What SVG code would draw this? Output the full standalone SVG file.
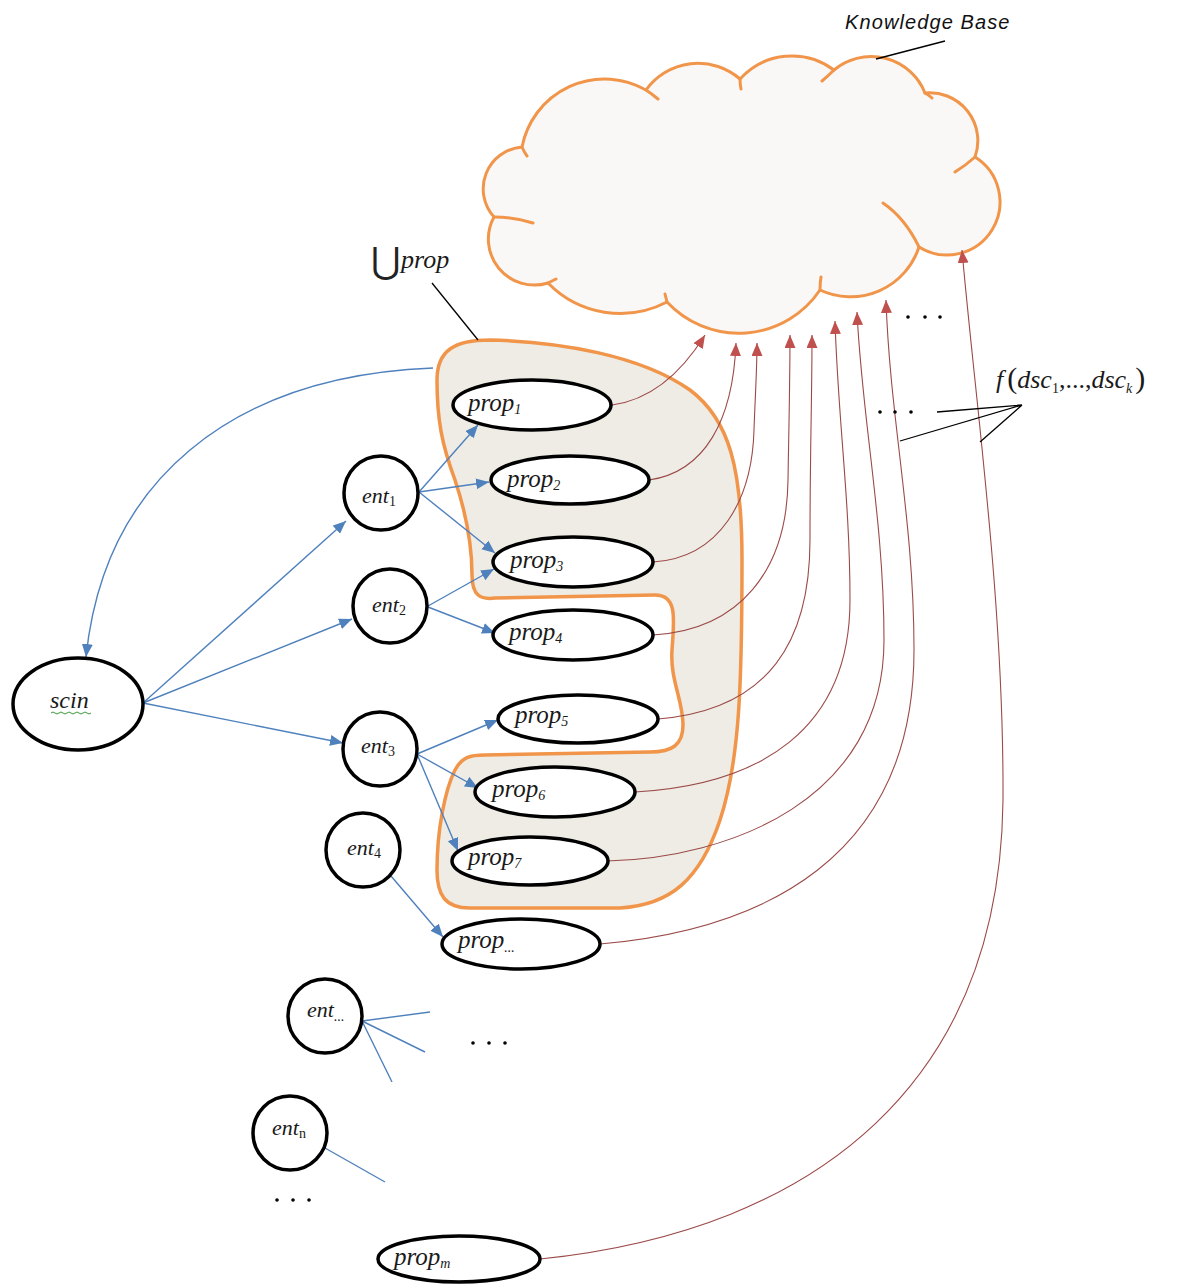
<svg xmlns="http://www.w3.org/2000/svg" width="1177" height="1284" viewBox="0 0 1177 1284">
<defs>
<style>
.node{fill:#fff;stroke:#000;stroke-width:3.5}
.lbl{font-family:"Liberation Serif",serif;font-style:italic;fill:#1a1a1a}
.sub{font-size:14px}
.blue{fill:none;stroke:#4F81BD;stroke-width:1.4}
.red{fill:none;stroke:#9B4A48;stroke-width:1.1}
.lead{fill:none;stroke:#000;stroke-width:1.3}
.cloud{fill:#F9F8F6;stroke:#F0954A;stroke-width:3}
.curl{fill:none;stroke:#F0954A;stroke-width:3;stroke-linecap:round}
</style>
<marker id="ab" markerUnits="userSpaceOnUse" markerWidth="14" markerHeight="12" refX="13" refY="5.5" orient="auto">
<path d="M0,0 L13,5.5 L0,11 z" fill="#4F81BD"/>
</marker>
<marker id="ar" markerUnits="userSpaceOnUse" markerWidth="14" markerHeight="12" refX="13" refY="5.5" orient="auto">
<path d="M0,0 L13,5.5 L0,11 z" fill="#C0504D"/>
</marker>
</defs>
<rect width="1177" height="1284" fill="#fff"/>

<g id="knowledge-base">
<path class="cloud" d="M522,147 A84,84 0 0 1 646,90 A64,64 0 0 1 740,79 A70,70 0 0 1 834,70 A58,58 0 0 1 925,93 A48,48 0 0 1 975,157 A52,52 0 0 1 919,247 A72,72 0 0 1 820,290 A98,98 0 0 1 667,302 A101,101 0 0 1 548,283 A46,46 0 0 1 494,217 A42,42 0 0 1 522,147 Z"/>
<path class="curl" d="M522,147 Q524,152 527,156 M646,90 Q652,94 658,99 M740,79 Q740,84 741,89 M834,70 Q828,76 822,81 M925,93 Q929,95 932,98 M975,157 Q965,166 955,172 M919,247 Q905,218 883,203 M820,290 Q820,283 821,277 M667,302 Q666,298 665,294 M548,283 Q552,281 556,279 M494,217 Q515,217 533,223"/>
<text x="845" y="29" font-family="Liberation Sans, sans-serif" font-style="italic" font-size="20" letter-spacing="1.1" fill="#111">Knowledge Base</text>
<path class="lead" d="M876,59 L945,41"/>
</g>

<g id="union-prop">
<path d="M437,380 C437,350 455,340 490,340 C560,342 640,355 690,390 C730,420 742,470 742,560 C742,680 740,760 720,820 C700,880 670,905 620,908 L470,908 C445,908 437,895 437,870 C437,830 445,790 455,770 C462,757 470,755 485,755 L650,752 C672,752 683,745 683,725 C683,700 670,680 672,650 C674,620 678,595 655,595 L495,598 C480,600 472,595 472,575 C472,540 465,510 455,480 C442,445 437,420 437,380 Z" fill="#EEECE4" stroke="#F0954A" stroke-width="3.5"/>
<text x="371" y="273" font-family="DejaVu Sans, sans-serif" font-size="36" font-weight="200" fill="#222">⋃</text>
<text x="401" y="268" class="lbl" font-size="26">prop</text>
<path class="lead" d="M432,283 L478,340"/>
</g>

<g id="connectors">
<path class="blue" marker-end="url(#ab)" d="M433,368 C330,372 250,400 190,450 C130,500 95,570 86,657"/>
<path class="blue" marker-end="url(#ab)" d="M143,703 L346,521"/>
<path class="blue" marker-end="url(#ab)" d="M143,703 L352,619"/>
<path class="blue" marker-end="url(#ab)" d="M143,703 L343,743"/>
<path class="blue" marker-end="url(#ab)" d="M419,492 L478,425"/>
<path class="blue" marker-end="url(#ab)" d="M419,492 L489,482"/>
<path class="blue" marker-end="url(#ab)" d="M419,492 L495,553"/>
<path class="blue" marker-end="url(#ab)" d="M428,606 L494,569"/>
<path class="blue" marker-end="url(#ab)" d="M428,607 L495,633"/>
<path class="blue" marker-end="url(#ab)" d="M417,754 L498,720"/>
<path class="blue" marker-end="url(#ab)" d="M417,754 L478,788"/>
<path class="blue" marker-end="url(#ab)" d="M417,754 L458,851"/>
<path class="blue" marker-end="url(#ab)" d="M391,876 L443,937"/>
<path class="blue" d="M362,1021 L430,1012 M362,1021 L425,1052 M362,1021 L392,1082"/>
<path class="blue" d="M325,1148 L385,1182"/>

<path class="red" marker-end="url(#ar)" d="M612,405 C650,400 680,375 705,335"/>
<path class="red" marker-end="url(#ar)" d="M649,480 C705,472 733,420 736,343"/>
<path class="red" marker-end="url(#ar)" d="M653,562 C720,558 752,500 754,430 C755,400 757,370 757,343"/>
<path class="red" marker-end="url(#ar)" d="M653,635 C740,630 787,570 788,480 C789,420 790,380 790,335"/>
<path class="red" marker-end="url(#ar)" d="M658,719 C770,710 810,640 810,540 C810,450 812,400 812,335"/>
<path class="red" marker-end="url(#ar)" d="M635,792 C760,785 850,730 850,600 C850,500 838,420 835,321"/>
<path class="red" marker-end="url(#ar)" d="M607,861 C730,858 884,800 884,640 C884,520 862,420 857,312"/>
<path class="red" marker-end="url(#ar)" d="M600,944 C760,930 914,860 914,650 C914,520 890,420 886,300"/>
<path class="red" marker-end="url(#ar)" d="M540,1259 C820,1230 1000,1080 1003,800 C1004,600 975,400 962,250"/>
</g>

<g id="scin">
<ellipse class="node" cx="78" cy="704" rx="65" ry="46"/>
<text x="50" y="708" class="lbl" font-size="24">scin</text>
<path d="M51,713 q2,-2 4,0 t4,0 t4,0 t4,0 t4,0 t4,0 t4,0 t4,0 t4,0 t4,0" fill="none" stroke="#3a9a3a" stroke-width="1"/>
</g>

<g id="ent1"><circle class="node" cx="381" cy="493" r="37"/><text x="362" y="503" class="lbl" font-size="22">ent<tspan class="sub" font-style="normal" dy="3">1</tspan></text></g>
<g id="ent2"><circle class="node" cx="390" cy="606" r="37"/><text x="372" y="612" class="lbl" font-size="22">ent<tspan class="sub" font-style="normal" dy="3">2</tspan></text></g>
<g id="ent3"><circle class="node" cx="380" cy="749" r="37"/><text x="361" y="753" class="lbl" font-size="22">ent<tspan class="sub" font-style="normal" dy="3">3</tspan></text></g>
<g id="ent4"><circle class="node" cx="363" cy="850" r="37"/><text x="347" y="855" class="lbl" font-size="22">ent<tspan class="sub" font-style="normal" dy="3">4</tspan></text></g>
<g id="ent-dots"><circle class="node" cx="325" cy="1016" r="37"/><text x="307" y="1017" class="lbl" font-size="22">ent<tspan class="sub" dy="4">...</tspan></text></g>
<g id="entn"><circle class="node" cx="290" cy="1133" r="37"/><text x="272" y="1135" class="lbl" font-size="22">ent<tspan class="sub" font-style="normal" dy="3">n</tspan></text></g>

<g id="prop1"><ellipse class="node" cx="532" cy="405" rx="79" ry="25"/><text x="468" y="411" class="lbl" font-size="25">prop<tspan class="sub" dy="3">1</tspan></text></g>
<g id="prop2"><ellipse class="node" cx="570" cy="480" rx="79" ry="24"/><text x="507" y="487" class="lbl" font-size="25">prop<tspan class="sub" dy="3">2</tspan></text></g>
<g id="prop3"><ellipse class="node" cx="573" cy="562" rx="80" ry="25"/><text x="510" y="568" class="lbl" font-size="25">prop<tspan class="sub" dy="3">3</tspan></text></g>
<g id="prop4"><ellipse class="node" cx="573" cy="635" rx="80" ry="25"/><text x="509" y="640" class="lbl" font-size="25">prop<tspan class="sub" dy="3">4</tspan></text></g>
<g id="prop5"><ellipse class="node" cx="578" cy="719" rx="80" ry="24"/><text x="515" y="723" class="lbl" font-size="25">prop<tspan class="sub" dy="3">5</tspan></text></g>
<g id="prop6"><ellipse class="node" cx="555" cy="792" rx="80" ry="25"/><text x="492" y="797" class="lbl" font-size="25">prop<tspan class="sub" dy="3">6</tspan></text></g>
<g id="prop7"><ellipse class="node" cx="530" cy="861" rx="78" ry="24"/><text x="468" y="865" class="lbl" font-size="25">prop<tspan class="sub" dy="3">7</tspan></text></g>
<g id="prop-dots"><ellipse class="node" cx="521" cy="944" rx="79" ry="25"/><text x="458" y="948" class="lbl" font-size="25">prop<tspan class="sub" dy="4">...</tspan></text></g>
<g id="propm"><ellipse class="node" cx="459" cy="1259" rx="81" ry="23"/><text x="394" y="1265" class="lbl" font-size="25">prop<tspan class="sub" dy="3">m</tspan></text></g>

<g id="f-label">
<text x="996" y="388" class="lbl" font-size="26">f<tspan font-style="normal" dx="4" font-size="30">(</tspan>dsc<tspan class="sub" font-style="normal" dy="5">1</tspan><tspan font-style="normal" dy="-5">,...,</tspan>dsc<tspan class="sub" dy="5">k</tspan><tspan font-style="normal" dy="-5" dx="3" font-size="30">)</tspan></text>
<path class="lead" d="M1022,405 L937,412 M1022,405 L900,441 M1022,405 L980,442"/>
</g>

<g id="ellipses" fill="#000">
<circle cx="908" cy="317" r="1.8"/><circle cx="925" cy="317" r="1.8"/><circle cx="940" cy="317" r="1.8"/>
<circle cx="880" cy="412" r="1.8"/><circle cx="895" cy="412" r="1.8"/><circle cx="911" cy="412" r="1.8"/>
<circle cx="473" cy="1043" r="1.8"/><circle cx="489" cy="1043" r="1.8"/><circle cx="505" cy="1043" r="1.8"/>
<circle cx="277" cy="1200" r="1.8"/><circle cx="293" cy="1200" r="1.8"/><circle cx="309" cy="1200" r="1.8"/>
</g>
</svg>
